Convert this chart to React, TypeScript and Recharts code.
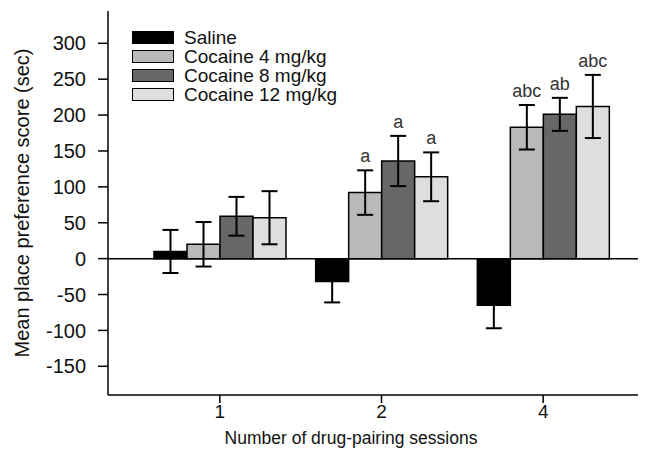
import { BarChart, Bar, XAxis, YAxis, ErrorBar, ReferenceLine, Legend, LabelList } from 'recharts';

const sessions = ['1', '2', '4'];

const saline = [10, -32, -65];
const salineErr = [30, 29, 32];
const cocaine4 = [20, 92, 183];
const cocaine4Err = [31, 31, 31];
const cocaine8 = [59, 136, 201];
const cocaine8Err = [27, 35, 23];
const cocaine12 = [57, 114, 212];
const cocaine12Err = [37, 34, 44];

const cocaine4Labels = ['', 'a', 'abc'];
const cocaine8Labels = ['', 'a', 'ab'];
const cocaine12Labels = ['', 'a', 'abc'];

const yTicks = [-150, -100, -50, 0, 50, 100, 150, 200, 250, 300];

const FONT = '"Liberation Sans", Arial, sans-serif';

const series = [
  { key: 'saline', name: 'Saline', fill: '#000000', labels: null as string[] | null, err: salineErr },
  { key: 'cocaine4', name: 'Cocaine 4 mg/kg', fill: '#b9b9b9', labels: cocaine4Labels, err: cocaine4Err },
  { key: 'cocaine8', name: 'Cocaine 8 mg/kg', fill: '#676767', labels: cocaine8Labels, err: cocaine8Err },
  { key: 'cocaine12', name: 'Cocaine 12 mg/kg', fill: '#dedede', labels: cocaine12Labels, err: cocaine12Err },
];

const data = sessions.map((s, i) => ({
  session: s,
  saline: saline[i],
  salineErr: salineErr[i],
  cocaine4: cocaine4[i],
  cocaine4Err: cocaine4Err[i],
  cocaine8: cocaine8[i],
  cocaine8Err: cocaine8Err[i],
  cocaine12: cocaine12[i],
  cocaine12Err: cocaine12Err[i],
}));

function LegendBox() {
  return (
    <div style={{ fontFamily: FONT, fontSize: 19, color: '#111' }}>
      {series.map((s) => (
        <div key={s.key} style={{ display: 'flex', alignItems: 'center', height: 19 }}>
          <div
            style={{
              width: 40,
              height: 11,
              background: s.fill,
              border: '1.5px solid #000',
              marginRight: 10,
            }}
          />
          <span style={{ lineHeight: '19px' }}>{s.name}</span>
        </div>
      ))}
    </div>
  );
}

// letters above the error bars (significance marks)
function makeLabel(labels: string[], errs: number[]) {
  return (props: any) => {
    const { x, y, width, height, value, index } = props;
    const text = labels[index];
    if (!text || !value) return null;
    const pxPerUnit = Math.abs(height) / Math.abs(value);
    const errTop = y - errs[index] * pxPerUnit;
    return (
      <text
        x={x + width / 2}
        y={errTop - 8}
        textAnchor="middle"
        fontSize={18}
        fontFamily={FONT}
        fill="#333"
      >
        {text}
      </text>
    );
  };
}

export default function App() {
  return (
    <div style={{ width: 638, height: 452, position: 'relative' }}>
      <BarChart
        width={638}
        height={452}
        data={data}
        margin={{ top: 3, right: 0, left: 0, bottom: 0 }}
        barCategoryGap={15}
        barGap={0}
      >
        <XAxis
          dataKey="session"
          padding={{ left: 31, right: 22 }}
          height={65}
          tickSize={8}
          tickMargin={2}
          tick={{ fill: '#111', fontSize: 19, fontFamily: FONT }}
          tickLine={{ stroke: '#000', strokeWidth: 1.5 }}
          axisLine={{ stroke: '#000', strokeWidth: 1.5 }}
          label={{
            value: 'Number of drug-pairing sessions',
            position: 'insideBottom',
            offset: 16,
            dx: -26,
            style: { fill: '#111', fontSize: 17.5, fontFamily: FONT },
          }}
        />
        <XAxis
          xAxisId="top"
          orientation="top"
          dataKey="session"
          height={0}
          tick={false}
          tickLine={false}
          axisLine={{ stroke: '#000', strokeWidth: 1.5 }}
        />
        <YAxis
          width={100}
          domain={[-190, 345]}
          ticks={yTicks}
          interval={0}
          tickSize={10}
          tickMargin={12}
          tick={{ fill: '#111', fontSize: 20, fontFamily: FONT }}
          tickLine={{ stroke: '#000', strokeWidth: 1.5 }}
          axisLine={{ stroke: '#000', strokeWidth: 1.5 }}
          label={{
            value: 'Mean place preference score (sec)',
            angle: -90,
            position: 'insideLeft',
            offset: 14,
            style: { fill: '#111', fontSize: 20, fontFamily: FONT, textAnchor: 'middle' },
          }}
        />
        <ReferenceLine y={0} stroke="#000" strokeWidth={1.5} />
        <Legend
          layout="horizontal"
          verticalAlign="middle"
          align="center"
          wrapperStyle={{ top: 20, left: 124, width: 'auto', height: 'auto' }}
          content={() => <LegendBox />}
        />
        {series.map((s) => (
          <Bar
            key={s.key}
            dataKey={s.key}
            name={s.name}
            fill={s.fill}
            stroke="#000"
            strokeWidth={1.5}
            isAnimationActive={false}
          >
            <ErrorBar dataKey={`${s.key}Err`} width={8} stroke="#000" strokeWidth={2} />
            {s.labels && <LabelList dataKey={s.key} content={makeLabel(s.labels, s.err)} />}
          </Bar>
        ))}
      </BarChart>
    </div>
  );
}
